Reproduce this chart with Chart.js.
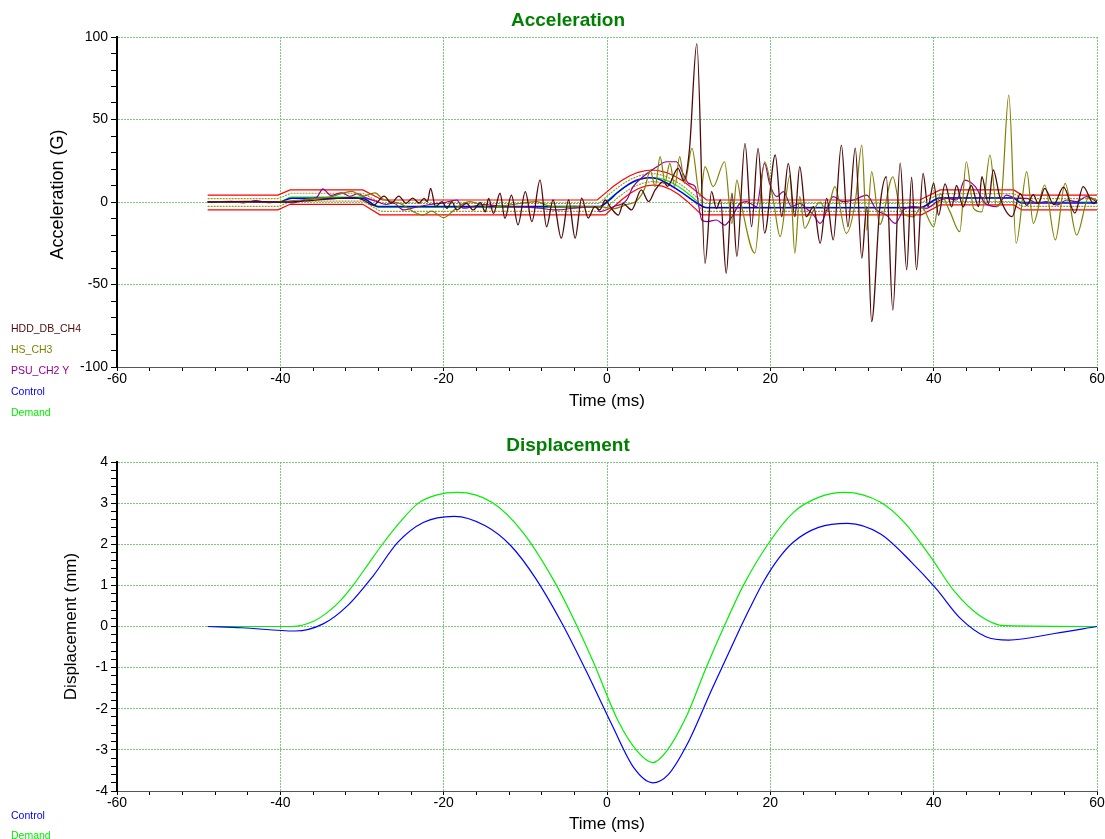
<!DOCTYPE html>
<html>
<head>
<meta charset="utf-8">
<title>Acceleration / Displacement</title>
<script src="https://cdn.jsdelivr.net/npm/chart.js@4.4.1/dist/chart.umd.min.js"></script>
<style>
  html, body { margin: 0; padding: 0; background: #fff; }
  body { position: relative; width: 1105px; height: 839px; overflow: hidden; font-family: Arial, "Liberation Sans", sans-serif; }
  .box { position: absolute; left: 0; width: 1105px; }
  #accBox { top: 0; height: 420px; }
  #dispBox { top: 420px; height: 419px; }
  .chart-title { position: absolute; width: 300px; margin-left: -150px; text-align: center; font-size: 19px; font-weight: bold; color: #008000; line-height: 22px; }
  .legend { position: absolute; left: 11px; font-size: 10.5px; line-height: 12px; white-space: nowrap; }
</style>
</head>
<body>
<div class="box" id="accBox"><canvas id="accChart" width="1105" height="420"></canvas></div>
<div class="box" id="dispBox"><canvas id="dispChart" width="1105" height="419"></canvas></div>

<div class="chart-title" style="left:568px;top:9px">Acceleration</div>
<div class="chart-title" style="left:568px;top:434px">Displacement</div>

<div class="legend" style="top:322px;color:#500a0a">HDD_DB_CH4</div>
<div class="legend" style="top:343px;color:#808000">HS_CH3</div>
<div class="legend" style="top:364px;color:#900090">PSU_CH2 Y</div>
<div class="legend" style="top:385px;color:#0000ff">Control</div>
<div class="legend" style="top:406px;color:#00ee00">Demand</div>

<div class="legend" style="top:809px;color:#0000ff">Control</div>
<div class="legend" style="top:829px;color:#00ee00">Demand</div>

<script>
// ---- Acceleration (G) vs time (ms) ----
const hddTime = [-48.9,-44,-40,-36,-33,-31,-29.8,-28.6,-27.3,-26.4,-25.5,-24.6,-23.8,-23.0,-22.4,-22.0,-21.6,-21.0,-20.2,-19.6,-19.0,-18.4,-17.2,-16.4,-15.5,-14.9,-14.5,-13.9,-13.1,-12.5,-11.7,-10.9,-10.0,-9.2,-8.2,-7.4,-6.6,-5.6,-4.7,-3.9,-3.1,-2.3,-1.5,-0.9,-0.2,0.4,1.4,2.0,3.0,4.2,5.1,5.9,6.9,7.4,8.7,9.4,10.1,11.0,12.0,12.8,13.4,13.9,14.6,15.3,15.9,16.9,17.7,18.5,19.3,20.6,21.4,22.2,23.0,23.6,24.4,25.3,26.1,26.9,27.7,28.7,29.5,30.4,31.2,31.8,32.4,33.4,34.2,35.0,35.9,36.7,37.3,37.9,38.7,39.3,40.0,40.6,41.4,42.2,42.8,43.6,44.6,45.5,45.9,46.7,47.3,48.1,49.6,50.6,51.4,52.2,52.8,53.6,54.7,55.9,57.3,58.3,59.6,60];
const hddAcc = [0,0.3,0,1.0,2.2,2.6,1.2,-2.0,3.6,-0.6,3.6,-0.8,2.4,-0.6,2.2,0.2,8.3,-2.8,0.2,-3.8,0.2,-4.8,-0.8,-4.8,-0.4,-5.9,2.2,-6.9,5.3,-9.9,4.2,-13.9,6.3,-11.9,13.3,-15,1.2,-21.9,1.2,-21.9,2.4,-9.7,-2.8,-4.8,1.2,-3.0,-7.9,-1.0,-4.8,7.3,0.2,7.3,12.3,9.5,20.4,13,32,96,-37.2,6.3,-4,1.2,-43.2,5.4,-33,35.5,-15,32.5,-18.9,28.5,-8.9,23.4,-8.9,21.4,-8.9,-2.8,-25,2.2,-23,34.5,-15,32.7,-34,-2.8,-72.5,-3.8,15.3,-65.5,23.6,-41,15,-41,17.4,-2.8,11.5,-8,11,-3,10,-3,10,-2.8,15.3,-1,19.4,3,-8.9,5,-2,4.5,-1,8.3,-1.5,9,-6.7,9.3,-1,1];

const hsTime = [-48.9,-44,-40,-37,-34,-31.2,-30,-28.4,-27.5,-26.6,-25.3,-23.7,-22.5,-21.5,-20.0,-19.0,-18.0,-16.8,-15.5,-14.3,-13.1,-11.5,-10.2,-8.6,-7.4,-6.2,-4.0,-2.0,-0.9,0.8,2.4,3.6,4.6,5.3,5.9,6.5,7.1,7.7,8.3,8.9,9.5,10.4,11.4,12.0,13.0,14.4,15.3,15.9,16.5,18.1,19.3,20.4,21.2,22.4,23.0,23.6,24.2,25.3,26.1,26.9,27.9,29.3,30.4,31.2,31.8,32.4,33.4,35.0,35.9,37.5,38.5,40.0,40.8,42.0,43.2,44.0,44.9,45.9,46.9,47.7,48.3,49.2,50.1,51.4,52.2,53.6,54.9,56.1,57.5,59.0,60];
const hsAcc = [0,0,0.3,1.5,3,6.5,3.5,5.5,2,0.5,-1,-5.9,-7.9,-5.5,-9.5,-6,-2,0.2,-1.5,-3.5,-2.5,-1.5,-0.5,0.2,-2.0,-3,-2.5,-3.0,-2.8,-4,-1.5,0.5,8,19,9.3,27.5,12.3,23.4,9.3,27.5,11.3,32.5,3.2,21.4,9.3,24.4,-13,13.3,-2.8,-31,24.4,0,-21,16,-31,3.2,-15.9,-5,0,-6,9.3,-19,0,34.5,-17,18.4,-13.6,15.3,-4,-9,-3,-15,5,-6,-18,24.4,-4,-6,28.5,-2.8,3,64.8,-25,18.4,-13,10.3,-23,11.3,-20,3,1];

const psuTime = [-48.9,-46,-44.5,-43,-41.5,-40,-38.5,-37,-35.5,-34.8,-33.8,-32.5,-31.5,-30.5,-29.5,-28.3,-27,-26.2,-24.9,-23.3,-21.7,-20,-18.4,-17.6,-15.1,-13.1,-10.2,-8.2,-6.2,-4.1,-1.3,-0.9,0.8,2.4,3.2,4.4,6.1,7.3,8.5,9.3,10.0,10.8,11.6,12.2,13.4,14.4,15.3,16.3,17.1,18.3,19.3,19.9,20.8,21.6,22.6,23.6,24.4,25.3,26.1,27.7,28.9,30.2,31.8,33.0,34.2,35.3,36.3,37.5,39.1,40.4,41.6,42.8,43.8,45.1,46.3,47.7,48.9,50.2,51.4,52.6,53.8,55.1,56.3,57.5,58.7,60];
const psuAcc = [0,0.4,-0.5,0.8,-0.4,0.2,-0.5,1.2,3,8,4,5.5,3.5,5,2.5,0.5,-1.5,-0.6,-4.8,-3,-1.5,-0.5,1.2,-3.8,-1.5,-2.5,-3,-3.8,-4.8,-3.8,-3,-5.9,-2.8,1.2,9.3,15.3,21.4,24.4,24.4,17.4,11.3,9.3,-10.9,-11.9,-10.9,-14,-9,-0.8,0.2,-2.8,23.4,11.3,3.2,6.3,-2.8,-0.8,-3.8,-7.9,-13,3.2,0.2,1.2,4.2,-4.8,-7.9,-13,-4.8,-2.8,-3.8,0.2,2.2,1.2,13.3,9.3,-0.8,-2.8,4.2,2.2,2.2,-0.8,0.2,-1.8,1.2,0.2,3.2,0];

const ctrlTime = [-48.9,-40.2,-38.6,-30,-28,-0.9,0.2,1.2,2.2,3.2,4.2,5.2,6.2,7.3,8.3,9.3,10.3,11.4,12.2,38.3,40.8,49.7,50.7,60];
const ctrlAcc = [0,0,2.3,2.3,-2.8,-2.8,0.8,5.3,9.2,12.3,14.1,14.7,14.0,11.5,8.6,5.3,1.8,-1.8,-3.5,-3.5,2.4,2.4,-0.6,-0.6];

const demTime = [-48.9,-40.2,-38.6,-30,-28,-0.9,0.1,1.1,2.1,3.1,4.1,5.1,5.5,6.1,7.1,8.1,9.1,10.1,11.1,11.9,38.3,40.8,49.7,50.7,60];
const demAcc = [0,0,2.9,2.9,-3.2,-3.2,1.1,5.2,8.9,11.7,13.7,14.7,14.8,14.6,13.4,11.2,8.2,4.4,0.2,-3.3,-3.3,2.7,2.7,0,0];

// tolerance lines (red = abort, olive dotted = alarm)
const abortHiTime = [-48.9,-40.3,-38.8,-29.9,-27.5,-1.2,-0.2,0.8,1.8,2.8,3.8,4.8,5.5,6.2,7.2,8.2,9.2,10.2,11.2,12.2,38.3,40.8,49.8,50.8,60];
const abortHi = [4.2,4.2,7.3,7.3,1.2,1.2,5.4,9.5,13.0,15.9,18.0,19.1,19.4,19.1,18.0,15.9,13.0,9.4,5.4,1.2,1.2,7.3,7.3,4.2,4.2];
const abortLoTime = [-48.9,-40.3,-38.8,-29.9,-27.8,-0.2,0.8,1.8,2.8,3.8,4.8,5.7,6.8,7.8,8.8,9.8,10.8,11.6,38.5,40.8,49.8,50.8,60];
const abortLo = [-4.8,-4.8,-1.4,-1.4,-7.8,-7.8,-3.0,1.4,5.2,8.0,9.8,10.3,9.6,7.6,4.5,0.5,-4.0,-7.8,-7.8,-1.8,-1.8,-4.8,-4.8];
const alarmHiTime = [-48.9,-40.2,-38.7,-29.9,-27.6,-1.0,0.0,1.0,2.0,3.0,4.0,5.0,5.5,6.0,7.0,8.0,9.0,10.0,11.0,12.0,38.3,40.8,49.8,50.8,60];
const alarmHi = [2.1,2.1,5.3,5.3,-0.9,-0.9,3.5,7.6,11.2,14.0,16.0,17.1,17.2,17.1,15.9,13.7,10.8,7.0,2.8,-0.9,-0.9,5.1,5.1,2.1,2.1];
const alarmLoTime = [-48.9,-40.2,-38.7,-29.9,-27.7,-0.7,0.3,1.3,2.3,3.3,4.3,5.3,5.6,6.3,7.3,8.3,9.3,10.3,11.3,11.8,38.4,40.8,49.8,50.8,60];
const alarmLo = [-2.7,-2.7,0.5,0.5,-5.7,-5.7,-1.8,2.6,6.3,9.2,11.3,12.3,12.4,12.1,10.7,8.4,5.4,1.6,-2.8,-5.7,-5.7,0.3,0.3,-2.7,-2.7];

// ---- Displacement (mm) vs time (ms) ----
const demDispTime = [-48.9,-38.6,-36,-34,-32.5,-31.1,-29.3,-27.5,-25.3,-23.1,-20.8,-18.3,-14.1,-10.3,-6.4,-4.1,-1.7,1.4,3.7,5.6,7.3,9.8,12.1,14.4,16.7,19.7,22.8,25.9,29.1,33.5,36.4,39.5,42.6,45.6,48.7,60];
const demDisp = [0,0,0.12,0.38,0.66,1.0,1.5,2.0,2.55,3.0,3.2,3.26,3.02,2.29,1.08,0.19,-0.85,-2.31,-3.03,-3.31,-3.03,-2.15,-1.02,0.03,1.0,2.0,2.77,3.14,3.26,3.02,2.53,1.73,0.84,0.27,0.02,0];
const ctrlDispTime = [-48.9,-44.7,-38.2,-34.7,-31.7,-28.6,-25.6,-22.5,-18.7,-14.9,-11.8,-8.7,-5.6,-2.5,0.6,3.3,5.6,7.5,9.8,12.9,15.9,17.5,19.2,21.0,22.8,25.9,29.5,33.5,37.3,40.3,43.3,46.4,49.2,54.8,60];
const ctrlDisp = [0,-0.03,-0.11,0.07,0.52,1.24,2.05,2.53,2.68,2.45,1.97,1.16,0.11,-1.10,-2.39,-3.44,-3.80,-3.60,-2.87,-1.5,-0.21,0.45,1.1,1.65,2.05,2.41,2.51,2.25,1.56,0.92,0.19,-0.25,-0.33,-0.17,0];

const FONT = 'Arial, "Liberation Sans", sans-serif';
const GRID = '#7cc87c';
const NONE = 'rgba(0,0,0,0)';

function isMajor(v, every) {
  const q = v / every;
  return Math.abs(q - Math.round(q)) < 1e-6;
}

function series(label, xs, ys, color, width, smooth, dash) {
  return {
    label: label,
    data: xs.map((x, i) => ({ x: x, y: ys[i] })),
    borderColor: color,
    borderWidth: width,
    borderDash: dash || [],
    pointRadius: 0,
    fill: false,
    tension: 0,
    cubicInterpolationMode: smooth ? 'monotone' : 'default'
  };
}

// x axis: minor tick every 4 ms, label/grid every 20 ms
function timeAxis(height, titlePad) {
  return {
    type: 'linear',
    min: -60,
    max: 60,
    afterFit: s => { s.height = height; },
    ticks: {
      stepSize: 4, autoSkip: false, maxRotation: 0, padding: 0,
      color: '#000', font: { family: FONT, size: 14 },
      callback: v => isMajor(v, 20) ? String(Math.round(v)) : ''
    },
    grid: {
      color: c => isMajor(c.tick.value, 20) ? GRID : NONE,
      lineWidth: 1, tickColor: '#000', tickWidth: 1, tickLength: 4
    },
    border: { color: '#555', width: 1, dash: [2, 1] },
    title: {
      display: true, text: 'Time (ms)', color: '#000',
      font: { family: FONT, size: 17 }, padding: { top: 0, bottom: titlePad }
    }
  };
}

function valueAxis(min, max, step, major, text, size, titlePad) {
  return {
    type: 'linear',
    min: min,
    max: max,
    afterFit: s => { s.width = 117; },
    ticks: {
      stepSize: step, autoSkip: false, padding: 3,
      color: '#000', font: { family: FONT, size: 14 },
      callback: v => isMajor(v, major) ? String(Math.round(v)) : ''
    },
    grid: {
      color: c => isMajor(c.tick.value, major) ? GRID : NONE,
      lineWidth: 1, tickColor: '#000', tickWidth: 1, tickLength: 6
    },
    border: { color: '#000', width: 2, dash: [2, 1] },
    title: {
      display: true, text: text, color: '#000',
      font: { family: FONT, size: size }, padding: { top: titlePad, bottom: 0 }
    }
  };
}

const baseOptions = {
  responsive: false,
  animation: false,
  devicePixelRatio: 1,
  plugins: { legend: { display: false }, tooltip: { enabled: false }, title: { display: false } }
};

new Chart(document.getElementById('accChart'), {
  type: 'line',
  data: {
    datasets: [
      series('HDD_DB_CH4', hddTime, hddAcc, '#500a0a', 1.3, true),
      series('HS_CH3', hsTime, hsAcc, '#808000', 1.2, true),
      series('PSU_CH2 Y', psuTime, psuAcc, '#900090', 1.2, true),
      series('Control', ctrlTime, ctrlAcc, '#0000ff', 1.5, true),
      series('Demand', demTime, demAcc, '#00ee00', 1.2, true),
      series('Abort +', abortHiTime, abortHi, '#ff0000', 1.2, false),
      series('Abort -', abortLoTime, abortLo, '#ff0000', 1.2, false),
      series('Alarm +', alarmHiTime, alarmHi, '#9c9c2a', 1.2, false, [2, 1]),
      series('Alarm -', alarmLoTime, alarmLo, '#9c9c2a', 1.2, false, [2, 1])
    ]
  },
  options: Object.assign({}, baseOptions, {
    layout: { padding: { left: 0, right: 8, top: 37, bottom: 0 } },
    scales: {
      x: timeAxis(53, 8),
      // leading spaces nudge the rotated title up to where the original sits
      y: valueAxis(-100, 100, 10, 50, '   Acceleration (G)', 18, 47)
    }
  })
});

new Chart(document.getElementById('dispChart'), {
  type: 'line',
  data: {
    datasets: [
      series('Control', ctrlDispTime, ctrlDisp, '#0000ff', 1.2, true),
      series('Demand', demDispTime, demDisp, '#00ee00', 1.2, true)
    ]
  },
  options: Object.assign({}, baseOptions, {
    layout: { padding: { left: 0, right: 8, top: 42, bottom: 0 } },
    scales: {
      x: timeAxis(48, 4),
      y: valueAxis(-4, 4, 0.2, 1, 'Displacement (mm)', 17, 61)
    }
  })
});
</script>
</body>
</html>
